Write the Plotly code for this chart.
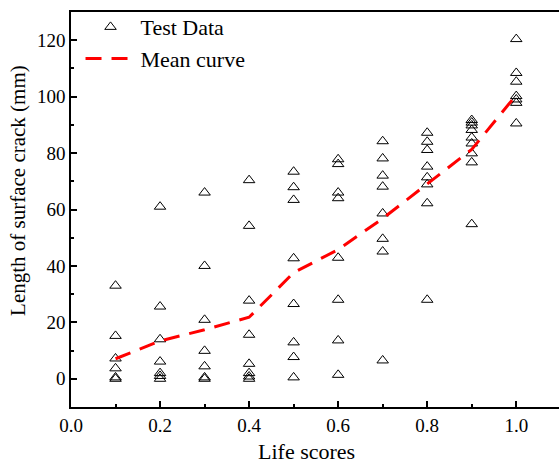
import plotly.graph_objects as go

# Test data: life score groups and crack lengths (mm)
x_levels = [0.1, 0.2, 0.3, 0.4, 0.5, 0.6, 0.7, 0.8, 0.9, 1.0]
lengths_01 = [33, 15.2, 7.2, 3.7, 0.5, 0]
lengths_02 = [61, 25.6, 14, 6.1, 2, 1, 0]
lengths_03 = [66, 40, 20.9, 9.9, 4.4, 0.5, 0]
lengths_04 = [70.4, 54.2, 27.7, 15.6, 5.3, 2, 0.8, 0]
lengths_05 = [73.4, 67.9, 63.4, 42.7, 26.5, 12.9, 7.7, 0.5]
lengths_06 = [77.8, 76.1, 66, 64, 42.9, 28, 13.6, 1.4]
lengths_07 = [84.2, 78.1, 72, 68.1, 58.6, 49.6, 45.1, 6.5]
lengths_08 = [87.2, 84, 81.1, 75.2, 71.4, 68.9, 62.2, 28]
lengths_09 = [91.7, 90.8, 89.8, 88.2, 85.5, 83.4, 79.9, 76.7, 54.8]
lengths_10 = [120.4, 108.4, 105.3, 100.2, 99, 97.8, 90.5]
groups = [lengths_01, lengths_02, lengths_03, lengths_04, lengths_05,
          lengths_06, lengths_07, lengths_08, lengths_09, lengths_10]

# Mean curve
mean_curve = [7.1, 13.4, 17.4, 21.8, 37.6, 45.8, 56.8, 69.2, 81.3, 100.6]

x_ticks = [0.0, 0.2, 0.4, 0.6, 0.8, 1.0]
x_tick_labels = ["0.0", "0.2", "0.4", "0.6", "0.8", "1.0"]
y_ticks = [0, 20, 40, 60, 80, 100, 120]

x_title = "Life scores"
y_title = "Length of surface crack (mm)"

scatter_x = []
scatter_y = []
for xv, g in zip(x_levels, groups):
    scatter_x += [xv] * len(g)
    scatter_y += g

FONT = "Liberation Serif"

fig = go.Figure()
fig.add_trace(go.Scatter(
    x=scatter_x, y=scatter_y, mode="markers", name="Test Data",
    marker=dict(symbol="triangle-up-open", size=10, color="black",
                line=dict(width=1, color="black")),
))
fig.add_trace(go.Scatter(
    x=x_levels, y=mean_curve, mode="lines", name="Mean curve",
    line=dict(color="#ff0000", width=3, dash="16px,10px"),
))

axis_common = dict(
    showgrid=False, zeroline=False, showline=True, linecolor="black",
    linewidth=1.5, ticks="inside", tickcolor="black", tickwidth=1.5,
    ticklen=6, tickfont=dict(family=FONT, size=19, color="black"),
)

fig.update_layout(
    width=559, height=463,
    margin=dict(l=71, r=0, t=12, b=56),
    paper_bgcolor="white", plot_bgcolor="white",
    font=dict(family=FONT, size=19, color="black"),
    xaxis=dict(
        **axis_common, range=[0, 1.096], mirror=True,
        tickvals=x_ticks, ticktext=x_tick_labels,
        minor=dict(tickvals=[0.1, 0.3, 0.5, 0.7, 0.9], ticks="inside",
                   ticklen=3.5, tickwidth=1.5, tickcolor="black"),
    ),
    yaxis=dict(
        **axis_common, range=[-10, 130], mirror=False,
        tickvals=y_ticks,
        minor=dict(tickvals=[10, 30, 50, 70, 90, 110], ticks="inside",
                   ticklen=3.5, tickwidth=1.5, tickcolor="black"),
    ),
    legend=dict(
        x=0.0195, y=1.015, xanchor="left", yanchor="top",
        bgcolor="rgba(0,0,0,0)", font=dict(family=FONT, size=22),
        itemwidth=50,
    ),
    annotations=[
        dict(text=x_title, xref="paper", yref="paper", x=0.4816, y=-0.113,
             xanchor="center", yanchor="middle", showarrow=False,
             font=dict(family=FONT, size=22, color="black")),
        dict(text=y_title, xref="paper", yref="paper", x=-0.1086, y=0.547,
             xanchor="center", yanchor="middle", showarrow=False,
             textangle=-90,
             font=dict(family=FONT, size=21, color="black")),
    ],
)

fig.write_html("out.html")
